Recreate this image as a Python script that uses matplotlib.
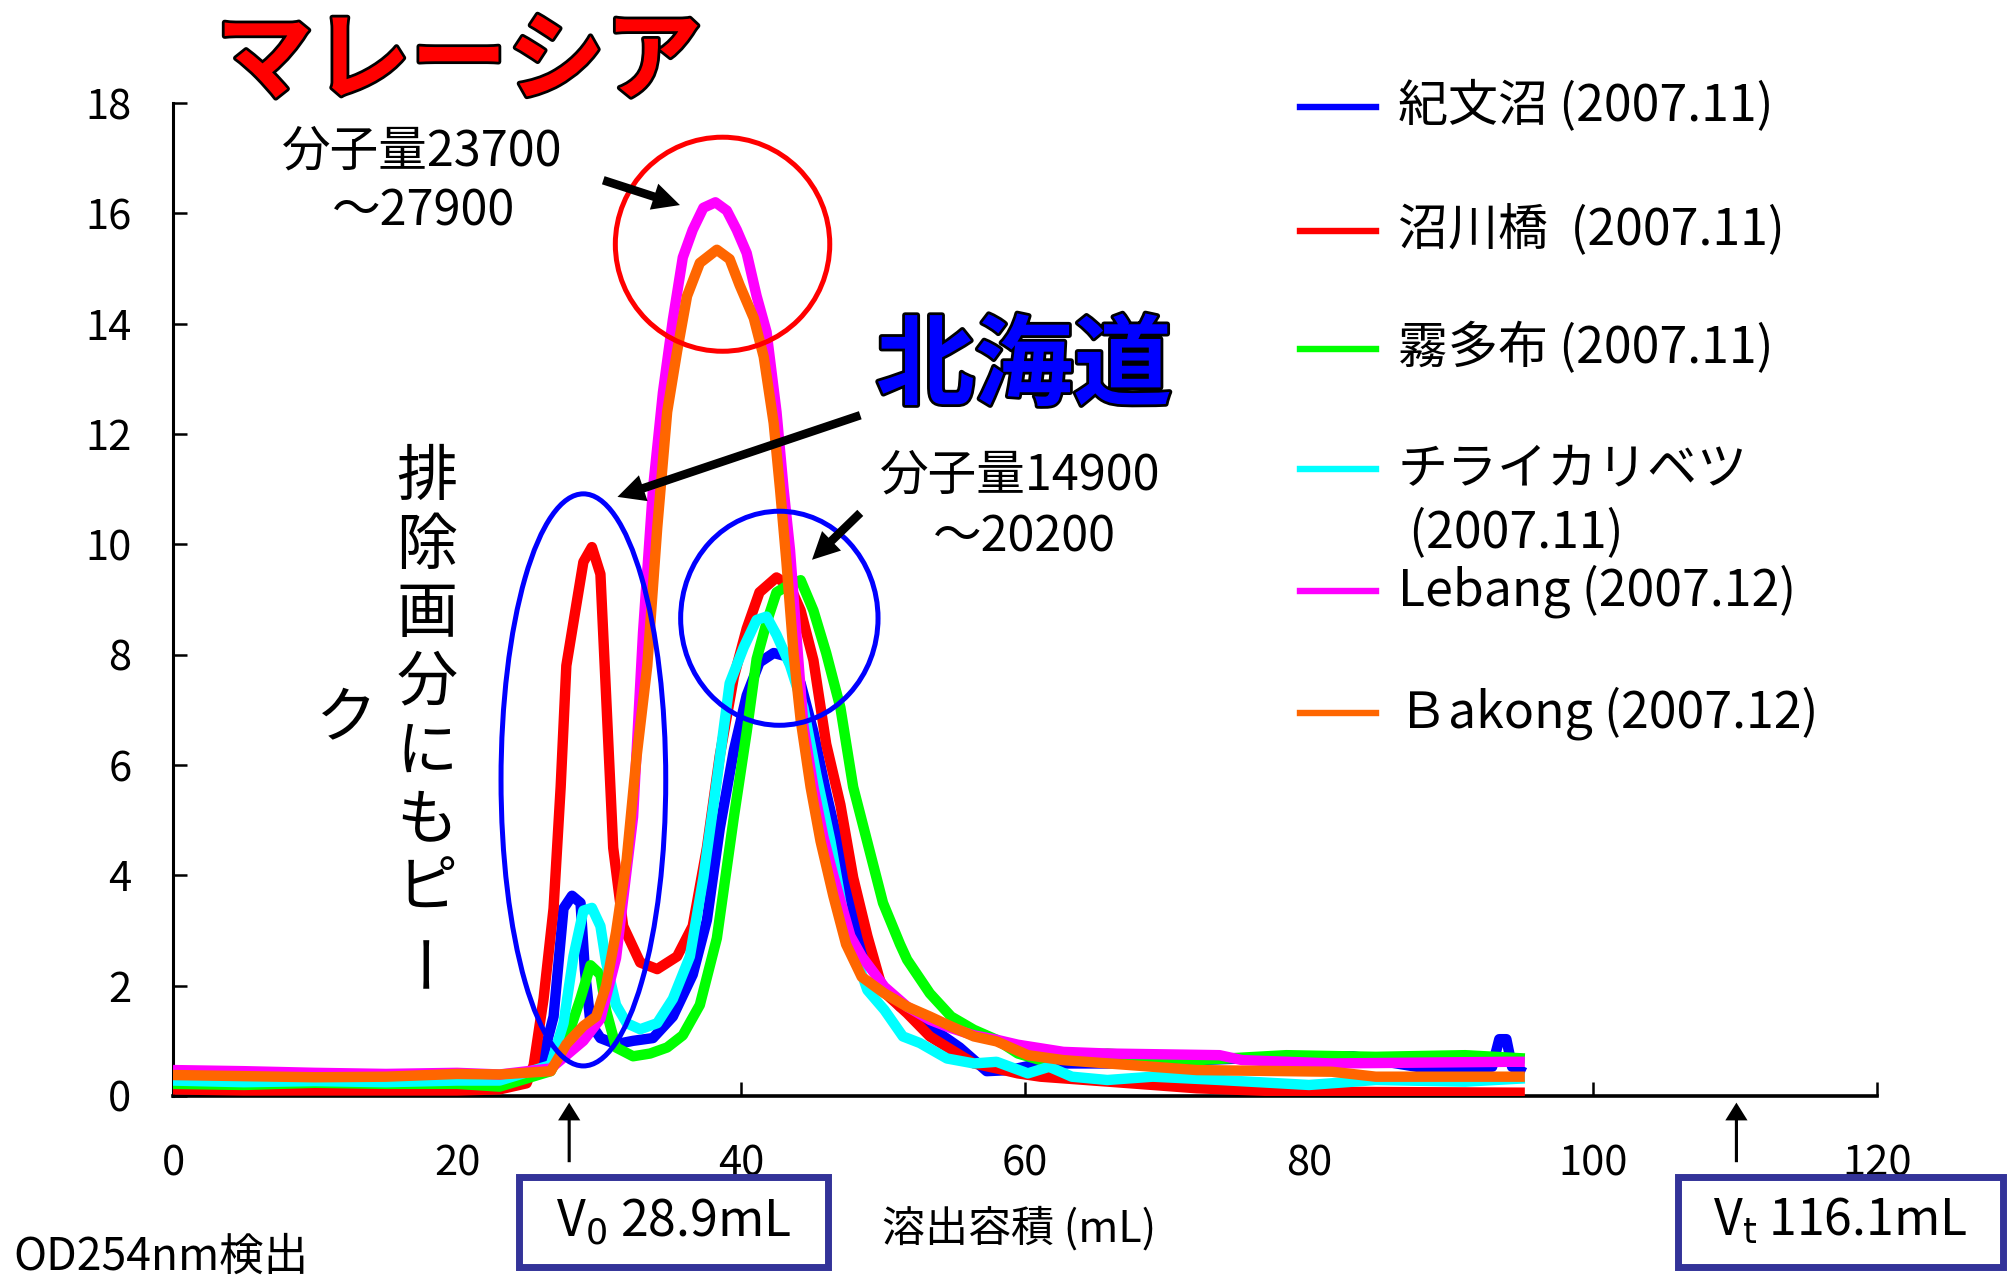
import matplotlib.pyplot as plt
import matplotlib.patheffects as pe
from matplotlib.patches import Ellipse, Rectangle
from matplotlib.lines import Line2D

plt.rcParams['font.family'] = ['Noto Sans CJK JP', 'DejaVu Sans']

# elution volume (mL) vs OD254 for each sample
x_kibun = [0, 5, 10, 15, 20, 23, 25.8, 26.8, 27.5, 28.1, 28.7, 29.0, 29.4, 30.1, 31.2, 32.4, 33.8,
           35.2, 36.6, 37.6, 38.5, 39.5, 40.4, 41.3, 42.3, 43.2, 44.2, 45.1, 46.0, 47.0, 47.9, 48.9,
           50.0, 51.2, 53.5, 55.4, 57.3, 58.9, 61.1, 65.8, 72.1, 78.4, 83.1, 87.8, 92.9, 93.4, 93.9,
           94.3, 95.2]
y_kibun = [0.22, 0.2, 0.22, 0.2, 0.22, 0.23, 0.45, 1.44, 3.4, 3.63, 3.5, 2.3, 1.32, 1.05, 0.94, 1.0,
           1.05, 1.44, 2.2, 3.19, 4.84, 6.27, 7.26, 7.86, 8.03, 7.97, 7.48, 6.6, 5.5, 4.4, 3.3, 2.53,
           1.98, 1.62, 1.22, 0.88, 0.45, 0.47, 0.59, 0.59, 0.65, 0.71, 0.72, 0.52, 0.53, 1.03, 1.03,
           0.53, 0.42]

x_numakawa = [0, 5, 10, 15, 20, 23, 24.9, 25.4, 26.1, 26.8, 27.3, 27.7, 28.4, 28.9, 29.5, 30.1, 30.5,
              31.0, 31.7, 32.9, 34.1, 35.5, 36.6, 37.6, 38.5, 39.5, 40.4, 41.3, 42.5, 43.45, 44.2,
              45.1, 46.0, 47.0, 47.9, 48.9, 50.0, 51.7, 53.3, 54.8, 56.4, 58.0, 59.5, 61.1, 64.3,
              69.0, 72.1, 78.4, 95.2]
y_numakawa = [0.12, 0.1, 0.1, 0.1, 0.1, 0.12, 0.23, 0.56, 1.77, 3.4, 5.6, 7.8, 8.9, 9.68, 9.95, 9.46,
              7.26, 4.5, 3.08, 2.42, 2.3, 2.53, 3.08, 4.5, 6.16, 7.6, 8.47, 9.13, 9.4, 9.24, 8.8,
              7.9, 6.38, 5.28, 3.96, 2.9, 1.9, 1.5, 1.08, 0.84, 0.59, 0.5, 0.41, 0.35, 0.29, 0.2,
              0.14, 0.08, 0.06]

x_kiritappu = [0, 5, 10, 15, 20, 23, 26.6, 27.7, 28.7, 29.4, 30.1, 30.5, 31.2, 32.4, 33.6, 34.8, 35.9,
               37.1, 38.3, 39.5, 40.4, 41.1, 41.8, 42.5, 43.2, 44.2, 45.1, 46.0, 47.0, 47.9, 48.9,
               50.0, 51.2, 51.7, 53.3, 54.8, 56.4, 58.0, 59.5, 61.1, 65.8, 72.1, 78.4, 84.7, 91.0,
               95.2]
y_kiritappu = [0.22, 0.2, 0.24, 0.22, 0.22, 0.17, 0.45, 1.0, 1.77, 2.37, 2.2, 1.55, 0.88, 0.72, 0.77,
               0.88, 1.1, 1.65, 2.86, 5.06, 6.6, 7.92, 8.58, 9.13, 9.24, 9.35, 8.8, 8.03, 7.04, 5.6,
               4.6, 3.5, 2.75, 2.47, 1.86, 1.44, 1.2, 1.02, 0.77, 0.65, 0.77, 0.65, 0.74, 0.71,
               0.74, 0.68]

x_chirai = [0, 5, 10, 15, 20, 23, 26.6, 27.5, 28.2, 28.9, 29.5, 30.1, 30.5, 31.2, 31.95, 32.9, 34.1,
            35.2, 36.4, 37.35, 38.3, 39.2, 40.2, 41.1, 41.8, 42.5, 43.45, 44.4, 45.3, 46.3, 47.2,
            47.9, 48.9, 50.1, 51.4, 52.6, 54.5, 56.4, 58.0, 60.2, 61.7, 63.3, 65.8, 69.0, 73.7,
            80.0, 84.7, 91.0, 95.2]
y_chirai = [0.28, 0.25, 0.27, 0.25, 0.28, 0.28, 0.56, 1.32, 2.53, 3.36, 3.41, 3.08, 2.42, 1.65, 1.32,
            1.21, 1.32, 1.76, 2.53, 3.96, 5.72, 7.48, 8.14, 8.63, 8.69, 8.36, 7.81, 7.04, 5.83,
            4.62, 3.3, 2.65, 1.92, 1.56, 1.08, 0.96, 0.68, 0.59, 0.62, 0.41, 0.53, 0.35, 0.29,
            0.35, 0.29, 0.2, 0.29, 0.26, 0.32]

x_lebang = [0, 5, 10, 15, 20, 23, 26.6, 28.9, 30.1, 31.2, 32.4, 33.1, 33.8, 34.5, 35.2, 35.9, 36.6,
            37.35, 38.2, 39.0, 39.7, 40.4, 41.1, 41.8, 42.5, 43.0, 43.45, 43.9, 44.4, 45.1, 45.8,
            46.5, 47.7, 48.5, 50.1, 51.7, 53.3, 54.8, 56.4, 58.0, 59.5, 62.7, 65.8, 73.7, 75.3,
            81.6, 94.1, 95.2]
y_lebang = [0.47, 0.45, 0.42, 0.4, 0.42, 0.39, 0.5, 1.0, 1.4, 2.5, 5.06, 8.4, 11.0, 12.75, 14.07,
            15.2, 15.7, 16.1, 16.2, 16.05, 15.7, 15.28, 14.5, 13.85, 12.4, 11.0, 9.9, 8.36, 6.7,
            5.6, 4.7, 4.0, 2.9, 2.53, 1.98, 1.62, 1.38, 1.23, 1.1, 1.02, 0.93, 0.8, 0.77, 0.74,
            0.65, 0.59, 0.62, 0.62]

x_bakong = [0, 5, 10, 15, 20, 23, 26.6, 27.7, 28.9, 29.8, 30.5, 31.2, 31.95, 32.65, 33.4, 34.1, 34.8,
            35.5, 36.2, 37.1, 38.3, 39.2, 39.9, 40.9, 41.6, 42.3, 42.75, 43.2, 43.7, 44.2, 44.9,
            45.6, 46.5, 47.4, 48.5, 50.1, 51.7, 53.3, 54.8, 56.4, 58.0, 60.2, 62.7, 69.0, 72.1,
            81.6, 84.7, 95.2]
y_bakong = [0.38, 0.36, 0.34, 0.35, 0.4, 0.39, 0.45, 0.94, 1.27, 1.44, 2.0, 2.97, 4.29, 6.16, 7.8,
            10.3, 12.4, 13.5, 14.5, 15.1, 15.34, 15.17, 14.7, 14.1, 13.4, 12.2, 11.0, 9.68, 8.03,
            6.82, 5.6, 4.62, 3.63, 2.75, 2.16, 1.86, 1.62, 1.44, 1.26, 1.08, 0.99, 0.74, 0.65,
            0.53, 0.47, 0.44, 0.35, 0.35]

labels = ['紀文沼 (2007.11)', '沼川橋  (2007.11)', '霧多布 (2007.11)',
          'チライカリベツ\n (2007.11)', 'Lebang (2007.12)', 'Ｂakong (2007.12)']
colors = ['#0000ff', '#ff0000', '#00ff00', '#00ffff', '#ff00ff', '#ff6600']
series = [(x_kibun, y_kibun), (x_numakawa, y_numakawa), (x_kiritappu, y_kiritappu),
          (x_chirai, y_chirai), (x_lebang, y_lebang), (x_bakong, y_bakong)]

xticks = [0, 20, 40, 60, 80, 100, 120]
yticks = [0, 2, 4, 6, 8, 10, 12, 14, 16, 18]

v0_pos, vt_pos = 27.9, 110.1

W, H = 2013, 1285
fig = plt.figure(figsize=(W / 100, H / 100), dpi=100)
ax = fig.add_axes([173 / W, 1 - 1096 / H, (1877 - 173) / W, (1096 - 103) / H])


def fx(px):
    return px / W


def fy(py):
    return 1 - py / H


for (xs, ys), c in zip(series, colors):
    ax.plot(xs, ys, color=c, lw=7.5, solid_joinstyle='round', solid_capstyle='butt', zorder=3)

ax.set_xlim(0, 120)
ax.set_ylim(0, 18)
ax.set_xticks(xticks)
ax.set_yticks(yticks)
for s in ['top', 'right']:
    ax.spines[s].set_visible(False)
ax.spines['left'].set_linewidth(2.2)
ax.spines['bottom'].set_linewidth(2.6)
ax.tick_params(axis='both', direction='in', length=10, width=1.8, labelsize=30)
ax.tick_params(axis='y', pad=30)
ax.tick_params(axis='x', pad=34)

# circled regions
ax.add_patch(Ellipse((38.7, 15.44), 15.1, 3.88, fill=False, ec='#ff0000', lw=3.6, zorder=5, clip_on=False))
ax.add_patch(Ellipse((28.9, 5.73), 11.6, 10.37, fill=False, ec='#0000ff', lw=3.6, zorder=5, clip_on=False))
ax.add_patch(Ellipse((42.7, 8.66), 13.9, 3.88, fill=False, ec='#0000ff', lw=3.6, zorder=5, clip_on=False))

# pointer arrows
big = dict(arrowstyle='simple,head_length=0.7,head_width=0.7,tail_width=0.22',
           mutation_scale=28, color='black', lw=0, shrinkA=0, shrinkB=0)
for tail, tip in [((30.3, 16.6), (35.7, 16.15)),
                  ((48.4, 12.34), (31.3, 10.86)),
                  ((48.4, 10.57), (45.0, 9.72))]:
    ax.annotate('', xy=tip, xytext=tail, arrowprops=big, annotation_clip=False, zorder=6)

small = dict(arrowstyle='simple,head_length=0.8,head_width=1.0,tail_width=0.14',
             mutation_scale=16, color='black', lw=0, shrinkA=0, shrinkB=0)
for xv in [v0_pos, vt_pos]:
    ax.annotate('', xy=(xv, -0.12), xytext=(xv, -1.2), arrowprops=small, annotation_clip=False)

# big region titles
outline = [pe.Stroke(linewidth=4, foreground='black'), pe.Normal()]
fig.text(fx(459), fy(63), 'マレーシア', fontsize=70, fontweight='bold', color='#ff0000',
         ha='center', va='center', path_effects=outline)
fig.text(fx(1024), fy(368), '北海道', fontsize=71, fontweight='bold', color='#0000ff',
         ha='center', va='center', path_effects=outline)

fig.text(fx(422), fy(152), '分子量23700', fontsize=35, ha='center', va='center')
fig.text(fx(424), fy(212), '～27900', fontsize=35, ha='center', va='center')
fig.text(fx(1020), fy(476), '分子量14900', fontsize=35, ha='center', va='center')
fig.text(fx(1024), fy(538), '～20200', fontsize=35, ha='center', va='center')

# vertical note
for i, ch in enumerate('排除画分にもピー'):
    fig.text(fx(427), fy(478 + i * 68.5), ch, fontsize=44, ha='center', va='center',
             rotation=90 if ch == 'ー' else 0)
fig.text(fx(347), fy(720), 'ク', fontsize=44, ha='center', va='center')

# legend
leg_y = [107, 231, 349, 469, 591, 713]
for lab, c, ly in zip(labels, colors, leg_y):
    fig.add_artist(Line2D([fx(1300), fx(1376)], [fy(ly), fy(ly)], color=c, lw=4.6,
                          transform=fig.transFigure))
    for k, line in enumerate(lab.split('\n')):
        fig.text(fx(1398), fy(ly + k * 64), line, fontsize=36, ha='left', va='center')

# axis caption and void / total volume boxes
fig.text(fx(1019), fy(1229), '溶出容積 (mL)', fontsize=31, ha='center', va='center')
fig.text(fx(13), fy(1257), 'OD254nm検出', fontsize=32, ha='left', va='center')

for x0, x1, txt in [(519, 828, r'V$_0$ 28.9mL'), (1678, 2003, r'V$_\mathrm{t}$ 116.1mL')]:
    fig.add_artist(Rectangle((fx(x0), fy(1267)), fx(x1 - x0), (1267 - 1177) / H, fill=False,
                             ec='#333399', lw=5, transform=fig.transFigure))
    fig.text(fx((x0 + x1) / 2), fy(1222), txt, fontsize=36, ha='center', va='center')

fig.savefig('out.png', dpi=100, facecolor='white')
